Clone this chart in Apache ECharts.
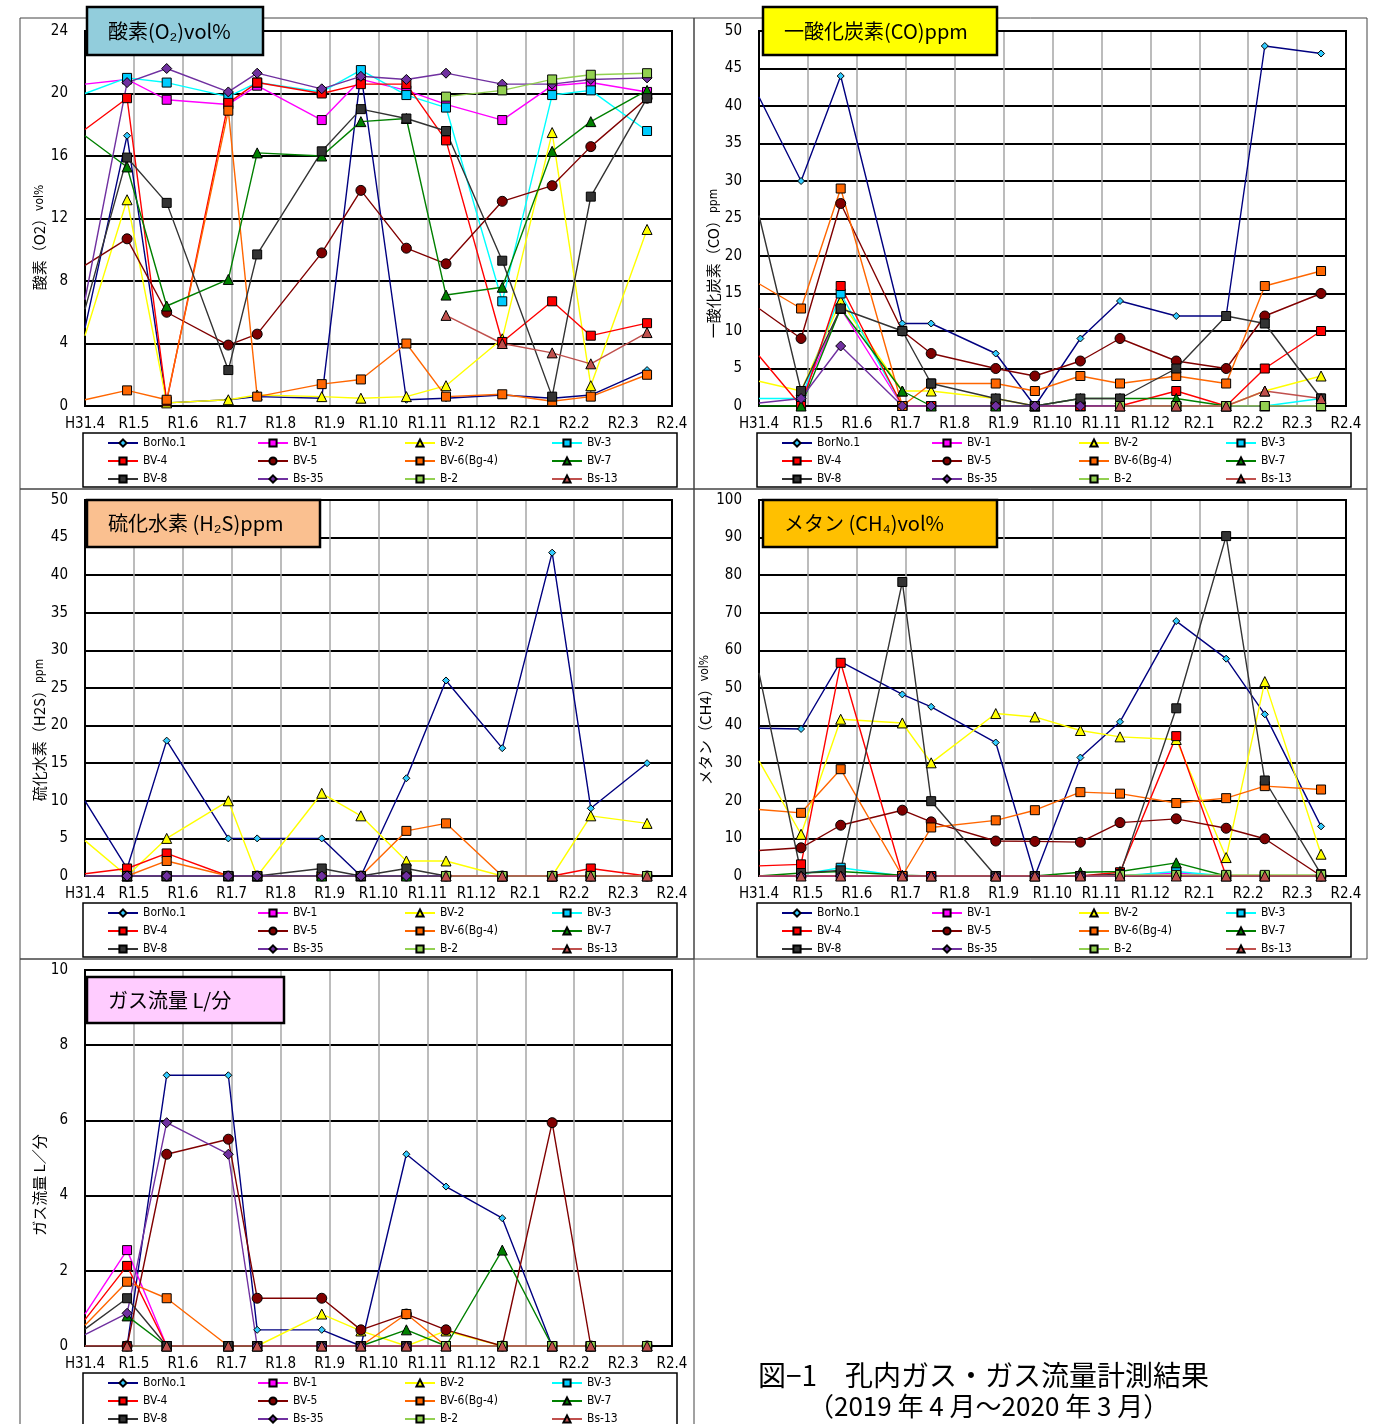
<!DOCTYPE html>
<html>
<head>
<meta charset="utf-8">
<script src="https://cdn.jsdelivr.net/npm/echarts@6/dist/echarts.min.js"></script>
<style>
body{margin:0;background:#fff;}
#chart{width:1380px;height:1424px;}
</style>
</head>
<body>
<div id="chart"></div>
<script>
// 調査日の位置（H31.4.1 からの月数）。先頭は左端で切れている線の値
const surveyPos = [0, 0.86, 1.67, 2.93, 3.52, 4.84, 5.64, 6.57, 7.38, 8.53, 9.55, 10.34, 11.49];
const monthLabels = ['H31.4','R1.5','R1.6','R1.7','R1.8','R1.9','R1.10','R1.11','R1.12','R2.1','R2.2','R2.3','R2.4'];
const seriesNames = ['BorNo.1','BV-1','BV-2','BV-3','BV-4','BV-5','BV-6(Bg-4)','BV-7','BV-8','Bs-35','B-2','Bs-13'];
const _ = null;

// 酸素(O2) vol%
const o2Rows = [
  [5.0, 17.3, 0.2, 0.4, 0.6, 0.5, 21.3, 0.4, 0.5, 0.7, 0.5, 0.7, 2.3],      // BorNo.1
  [20.6, 20.9, 19.6, 19.3, 20.5, 18.3, 20.9, 20.2, 19.3, 18.3, 20.5, 20.7, 20.1], // BV-1
  [4.5, 13.2, 0.2, 0.4, 0.7, 0.6, 0.5, 0.6, 1.3, 4.3, 17.5, 1.3, 11.3],     // BV-2
  [20.0, 21.0, 20.7, 19.8, 20.7, 20.1, 21.5, 19.9, 19.1, 6.7, 19.9, 20.2, 17.6], // BV-3
  [17.7, 19.7, 0.3, 19.4, 20.7, 20.0, 20.6, 20.6, 17.0, 4.1, 6.7, 4.5, 5.3], // BV-4
  [9.0, 10.7, 6.0, 3.9, 4.6, 9.8, 13.8, 10.1, 9.1, 13.1, 14.1, 16.6, 19.7], // BV-5
  [0.4, 1.0, 0.4, 18.9, 0.6, 1.4, 1.7, 4.0, 0.6, 0.75, 0.3, 0.6, 2.0],      // BV-6(Bg-4)
  [17.3, 15.3, 6.4, 8.1, 16.2, 16.0, 18.2, 18.4, 7.1, 7.6, 16.3, 18.2, 20.2], // BV-7
  [6.2, 15.9, 13.0, 2.3, 9.7, 16.3, 19.0, 18.4, 17.6, 9.3, 0.6, 13.4, 19.7], // BV-8
  [6.8, 20.7, 21.6, 20.1, 21.3, 20.3, 21.1, 20.9, 21.3, 20.6, 20.6, 20.9, 21.0], // Bs-35
  [_, _, _, _, _, _, _, _, 19.8, 20.2, 20.9, 21.2, 21.3],                    // B-2
  [_, _, _, _, _, _, _, _, 5.8, 4.0, 3.4, 2.7, 4.7]                          // Bs-13
];

// 一酸化炭素(CO) ppm
const coRows = [
  [41.2, 30, 44, 11, 11, 7, 0, 9, 14, 12, 12, 48, 47],
  [_, 1, 13, 0, 0, 0, 0, 0, 0, 0, 0, 0, 0],
  [3.3, 2, 14, 2, 2, 1, 0, 0, 0, 0, 0, 2, 4],
  [1.0, 1, 15, 0, 0, 0, 0, 0, 0, 0, 0, 0, 1],
  [6.7, 0, 16, 0, 0, 0, 0, 0, 0, 2, 0, 5, 10],
  [13, 9, 27, 10, 7, 5, 4, 6, 9, 6, 5, 12, 15],
  [16.3, 13, 29, 0, 3, 3, 2, 4, 3, 4, 3, 16, 18],
  [0, 0, 13, 2, 0, 0, 0, 1, 1, 1, 0, 0, 0],
  [25.4, 2, 13, 10, 3, 1, 0, 1, 1, 5, 12, 11, 1],
  [0.4, 1, 8, 0, 0, 0, 0, 0, 0, 0, 0, 0, 0],
  [_, _, _, _, _, _, _, _, 0, 0, 0, 0, 0],
  [_, _, _, _, _, _, _, _, 0, 0, 0, 2, 1]
];

// 硫化水素(H2S) ppm
const h2sRows = [
  [10, 1, 18, 5, 5, 5, 0, 13, 26, 17, 43, 9, 15],
  [0, 0, 0, 0, 0, 0, 0, 0, 0, 0, 0, 0, 0],
  [4.7, 0, 5, 10, 0, 11, 8, 2, 2, 0, 0, 8, 7],
  [0, 0, 0, 0, 0, 0, 0, 0, 0, 0, 0, 0, 0],
  [0.3, 1, 3, 0, 0, 0, 0, 0, 0, 0, 0, 1, 0],
  [0, 0, 0, 0, 0, 0, 0, 0, 0, 0, 0, 0, 0],
  [0, 0, 2, 0, 0, 0, 0, 6, 7, 0, 0, 0, 0],
  [0, 0, 0, 0, 0, 0, 0, 0, 0, 0, 0, 0, 0],
  [0, 0, 0, 0, 0, 1, 0, 1, 0, 0, 0, 0, 0],
  [0, 0, 0, 0, 0, 0, 0, 0, 0, 0, 0, 0, 0],
  [_, _, _, _, _, _, _, _, 0, 0, 0, 0, 0],
  [_, _, _, _, _, _, _, _, 0, 0, 0, 0, 0]
];

// メタン(CH4) vol%
const ch4Rows = [
  [39.3, 39.1, 57, 48.3, 45, 35.5, 0, 31.5, 41, 67.8, 57.8, 43, 13.2],
  [0, 0, 0, 0, 0, 0, 0, 0, 0, 0.8, 0, 0, 0],
  [30.6, 11.1, 41.7, 40.7, 30.1, 43.2, 42.3, 38.7, 37.0, 36.3, 4.9, 51.7, 5.8],
  [_, 0.5, 2.2, 0, 0, 0, 0, 0, 0, 1.2, 0, 0, 0],
  [2.7, 3.1, 56.7, 0, 0, 0, 0, 0, 1, 37.2, 0, 0, 0],
  [6.8, 7.5, 13.5, 17.5, 14.4, 9.3, 9.2, 9.0, 14.2, 15.2, 12.7, 9.9, 0],
  [17.7, 16.8, 28.4, 0, 12.9, 14.8, 17.5, 22.3, 21.9, 19.4, 20.7, 23.9, 23.0],
  [0, 0.8, 1.2, 0.2, 0, 0, 0, 1, 1.2, 3.5, 0, 0, 0],
  [54, 0.8, 1.5, 78.2, 19.9, 0, 0, 0, 0.5, 44.6, 90.4, 25.4, 0.5],
  [0, 0, 0, 0, 0, 0, 0, 0, 0, 0, 0, 0, 0],
  [_, _, _, _, _, _, _, _, 0.3, 0.3, 0.3, 0.3, 0.3],
  [0, 0, 0, 0, 0, 0, 0, 0, 0, 0, 0, 0, 0]
];

// ガス流量 L/分
const flowRows = [
  [_, 0, 7.2, 7.2, 0.43, 0.43, 0, 5.1, 4.24, 3.4, 0, 0, 0],
  [0.85, 2.55, 0, 0, 0, 0, 0, 0, 0, 0, 0, 0, 0],
  [_, 0, 0, 0, 0, 0.85, 0.4, 0, 0.4, 0, 0, 0, 0],
  [_, 0, 0, 0, 0, 0, 0, 0, 0, 0, 0, 0, 0],
  [0.7, 2.13, 0, 0, 0, 0, 0, 0, 0, 0, 0, 0, 0],
  [_, 0, 5.1, 5.5, 1.27, 1.27, 0.43, 0.85, 0.43, 0, 5.94, 0, 0],
  [0.55, 1.71, 1.27, 0, 0, 0, 0, 0.85, 0, 0, 0, 0, 0],
  [_, 0.8, 0, 0, 0, 0, 0, 0.43, 0, 2.55, 0, 0, 0],
  [0.45, 1.27, 0, 0, 0, 0, 0, 0, 0, 0, 0, 0, 0],
  [0.3, 0.87, 5.94, 5.1, 0, 0, 0, 0, 0, 0, 0, 0, 0],
  [_, _, _, _, _, _, _, _, 0, 0, 0, 0, 0],
  [0, 0, 0, 0, 0, 0, 0, 0, 0, 0, 0, 0, 0]
];

// 系列の見た目
const lineColors   = ['#000080','#FF00FF','#FFFF00','#00FFFF','#FF0000','#800000','#FF6600','#008000','#333333','#7030A0','#92D050','#C0504D'];
const markerColors = ['#33CCFF','#FF00FF','#FFFF00','#00CCFF','#FF0000','#800000','#FF6600','#008000','#333333','#7030A0','#92D050','#C0504D'];
const markerShapes = ['diamond','rect','triangle','rect','rect','circle','rect','triangle','rect','diamond','rect','triangle'];
const markerSizes  = [7, 9, 10, 9, 9, 10, 9, 10, 9, 10, 9, 10];

const NUM_FONT = '"Liberation Sans Narrow","DejaVu Sans Condensed","Liberation Sans",sans-serif';
const JP_FONT = '"Noto Sans CJK JP",sans-serif';

// 各グラフの配置（yShift：縦軸名を中央から下へずらす量）
const panels = [
  {rows: o2Rows, ox: 0, top: 31, h: 375, max: 24, step: 4, frame: [20, 18, 674, 471], yShift: 19,
   yName: '{a|酸素（O2）}{b|vol%}', title: '酸素(O₂)vol%', tBox: [87, 7, 176, 48], tFill: '#92CDDC', legTop: 434},
  {rows: coRows, ox: 674, top: 31, h: 375, max: 50, step: 5, frame: [694, 18, 673, 471], yShift: 45,
   yName: '{a|一酸化炭素（CO）}{b|ppm}', title: '一酸化炭素(CO)ppm', tBox: [763, 7, 234, 48], tFill: '#FFFF00', legTop: 434},
  {rows: h2sRows, ox: 0, top: 500, h: 376, max: 50, step: 5, frame: [20, 489, 674, 470], yShift: 42,
   yName: '{a|硫化水素（H2S）}{b|ppm}', title: '硫化水素 (H₂S)ppm', tBox: [87, 500, 233, 47], tFill: '#FAC090', legTop: 904},
  {rows: ch4Rows, ox: 674, top: 500, h: 376, max: 100, step: 10, frame: [694, 489, 673, 470], yShift: 32,
   yName: '{a|メタン（CH4）}{b|vol%}', title: 'メタン (CH₄)vol%', tBox: [763, 500, 234, 47], tFill: '#FFC000', legTop: 904},
  {rows: flowRows, ox: 0, top: 970, h: 376, max: 10, step: 2, frame: [20, 959, 674, 470], yShift: 27,
   yName: '{a|ガス流量 L／分}', title: 'ガス流量 L/分', tBox: [87, 977, 197, 46], tFill: '#FFCCFF', legTop: 1374}
];

let mycharts = echarts.init(document.getElementById('chart'));
let grid = [], xAxis = [], yAxis = [], series = [], legend = [], graphic = [];

panels.forEach((p, i) => {
  grid.push({left: 85 + p.ox, top: p.top, width: 587, height: p.h, show: true, z: 1,
    borderColor: '#000', borderWidth: 2, backgroundColor: 'transparent'});
  xAxis.push({
    gridIndex: i, type: 'value', min: 0, max: 12, interval: 1,
    axisLine: {show: true, lineStyle: {color: '#000', width: 2}},
    axisTick: {show: false},
    axisLabel: {formatter: v => monthLabels[Math.round(v)], color: '#000', fontSize: 15,
      fontFamily: NUM_FONT, margin: 11, showMinLabel: true, showMaxLabel: true},
    splitLine: {show: true, lineStyle: {color: '#A6A6A6', width: 1.5}}
  });
  yAxis.push({
    gridIndex: i, type: 'value', min: 0, max: p.max, interval: p.step,
    axisLine: {show: true, lineStyle: {color: '#000', width: 2}},
    axisTick: {show: false},
    axisLabel: {color: '#000', fontSize: 15, fontFamily: NUM_FONT, margin: 17},
    splitLine: {show: true, lineStyle: {color: '#000', width: 2}},
    name: p.yName, nameLocation: 'middle', nameRotate: 90, nameGap: 38,
    nameTextStyle: {color: '#000', padding: [0, p.yShift * 2, 0, 0], rich: {
      a: {fontSize: 15, fontFamily: JP_FONT, color: '#000'},
      b: {fontSize: 12, fontFamily: NUM_FONT, color: '#000'}
    }}
  });
  seriesNames.forEach((name, s) => {
    series.push({
      type: 'line', name: name, xAxisIndex: i, yAxisIndex: i,
      data: p.rows[s].map((v, k) => v == null ? [surveyPos[k], '-']
        : (k === 0 ? {value: [surveyPos[k], v], symbol: 'none'} : [surveyPos[k], v])),
      symbol: markerShapes[s], symbolSize: markerSizes[s], showAllSymbol: true,
      itemStyle: {color: markerColors[s], borderColor: '#000', borderWidth: 1},
      lineStyle: {color: lineColors[s], width: 1.4},
      emphasis: {disabled: true}, z: 3
    });
  });
  // 凡例：4列×3行
  [107, 257, 404, 551].forEach((cx, c) => {
    legend.push({
      left: cx + p.ox, top: p.legTop, height: 60, orient: 'vertical', itemGap: 0, padding: 0,
      itemWidth: 30, itemHeight: 9, selectedMode: false,
      data: [seriesNames[c], seriesNames[c + 4], seriesNames[c + 8]],
      textStyle: {fontSize: 12, lineHeight: 18, fontFamily: NUM_FONT, color: '#000'}
    });
  });
  const f = p.frame;
  graphic.push({type: 'rect', z: 0, shape: {x: f[0], y: f[1], width: f[2], height: f[3]},
    style: {fill: 'none', stroke: '#444', lineWidth: 1}});
  graphic.push({type: 'rect', z: 0, shape: {x: 83 + p.ox, y: p.legTop - 1, width: 594, height: 54},
    style: {fill: 'none', stroke: '#000', lineWidth: 1.5}});
  const b = p.tBox;
  graphic.push({type: 'rect', z: 100, shape: {x: b[0], y: b[1], width: b[2], height: b[3]},
    style: {fill: p.tFill, stroke: '#000', lineWidth: 2.5}});
  graphic.push({type: 'text', z: 101, x: b[0] + 21, y: b[1] + b[3] / 2,
    style: {text: p.title, fontSize: 20, fontFamily: JP_FONT, fill: '#000', verticalAlign: 'middle'}});
});

graphic.push({type: 'text', z: 101, x: 758, y: 1375,
  style: {text: '図−1　孔内ガス・ガス流量計測結果', fontSize: 28, fontFamily: JP_FONT, fill: '#000', verticalAlign: 'middle'}});
graphic.push({type: 'text', z: 101, x: 808, y: 1406,
  style: {text: '（2019 年 4 月～2020 年 3 月）', fontSize: 26, fontFamily: JP_FONT, fill: '#000', verticalAlign: 'middle'}});

let option = {
  animation: false,
  backgroundColor: '#fff',
  grid: grid, xAxis: xAxis, yAxis: yAxis, legend: legend, series: series, graphic: graphic
};
mycharts.setOption(option, true);
window.addEventListener('resize', () => mycharts.resize());
</script>
</body>
</html>
